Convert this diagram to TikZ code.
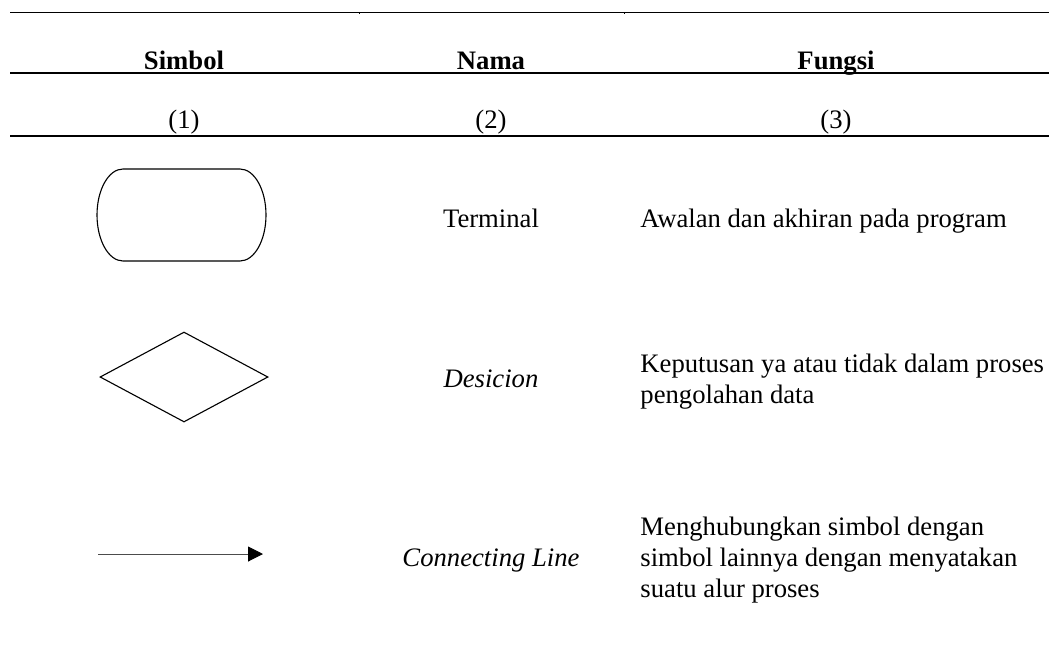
\documentclass[tikz,border=0pt]{standalone}
\usepackage{fontspec}
\setmainfont{Liberation Serif}
\usetikzlibrary{shapes.geometric,arrows.meta}

\begin{document}
\begin{tikzpicture}[
    x=0.45pt, y=-0.45pt,
    font=\fontsize{12}{13.8}\selectfont,
    head/.style={anchor=base, font=\fontsize{12}{13.8}\selectfont\bfseries},
    cell/.style={anchor=base},
    desc/.style={anchor=base west, align=left, inner sep=0pt},
    thinrule/.style={line width=0.45pt},
    rule/.style={line width=0.9pt},
    symb/.style={draw, line width=0.5pt},
    decision/.style={symb, diamond, minimum width=75.6pt, minimum height=40.5pt, inner sep=0pt},
    arrow/.style={-{Triangle[length=6.75pt, width=6.75pt, color=black]}, line width=0.45pt, draw=black!70}
]
\useasboundingbox (0,0) rectangle (1049,648);

% table rules
\draw[thinrule] (10,12) -- (1049,12);
\draw[thinrule] (359,12) -- (359,14);
\draw[thinrule] (624,12) -- (624,14);
\draw[rule] (10,73) -- (1049,73);
\draw[rule] (10,136) -- (1049,136);

% header
\node[head] (simbol) at (184,69) {Simbol};
\node[head] (nama) at (491,69) {Nama};
\node[head] (fungsi) at (836,69) {Fungsi};

\node[cell] (no1) at (184,128) {(1)};
\node[cell] (no2) at (491,128) {(2)};
\node[cell] (no3) at (836,128) {(3)};

% terminal
\draw[symb] (123,169) -- (240,169)
    arc[start angle=-90, end angle=90, x radius=26, y radius=46]
    -- (123,261)
    arc[start angle=90, end angle=270, x radius=26, y radius=46] -- cycle;
\node[cell] (terminal) at (491,227) {Terminal};
\node[desc] (fterminal) at (640,227) {Awalan dan akhiran pada program};

% decision
\node[decision] (dec) at (184,377) {};
\node[cell] (desicion) at (491,387) {\textit{Desicion}};
\node[desc] (fdesicion) at (640,403) {Keputusan ya atau tidak dalam proses\\pengolahan data};

% connecting line
\coordinate (lstart) at (98,554);
\coordinate (lend) at (263,554);
\draw[arrow] (lstart) -- (lend);
\node[cell] (conline) at (491,566) {\textit{Connecting Line}};
\node[desc] (fconline) at (640,597) {Menghubungkan simbol dengan\\simbol lainnya dengan menyatakan\\suatu alur proses};
\end{tikzpicture}
\end{document}
